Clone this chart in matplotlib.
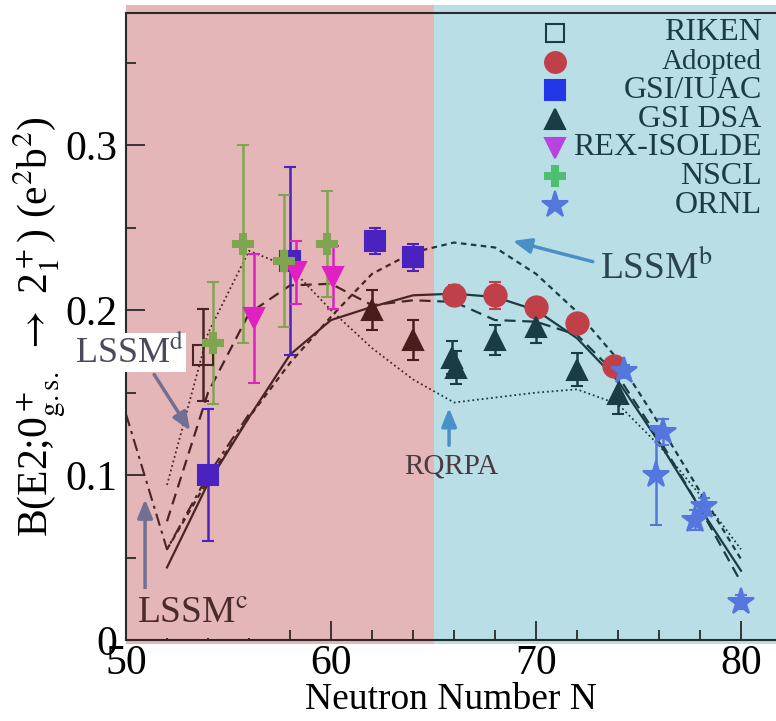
import numpy as np
import matplotlib
matplotlib.use("Agg")
import matplotlib.pyplot as plt
from matplotlib.patches import Rectangle
from matplotlib.ticker import MultipleLocator

plt.rcParams['font.family'] = ['Liberation Serif', 'DejaVu Serif']
plt.rcParams['mathtext.fontset'] = 'stix'

# datos experimentales (N, B(E2), error)
riken_N = [53.75]
riken_B = [0.173]
riken_e = [0.028]

adopt_N = [66, 68, 70, 72, 73.8]
adopt_B = [0.209, 0.209, 0.202, 0.192, 0.166]
adopt_e = [0.006, 0.008, 0.004, 0.003, 0.003]

iuac_N = [54, 58, 62.15, 64]
iuac_B = [0.100, 0.230, 0.242, 0.232]
iuac_e = [0.040, 0.057, 0.008, 0.008]

dsa_N = [62, 64, 65.9, 66.1, 68, 70, 72, 74]
dsa_B = [0.200, 0.182, 0.171, 0.165, 0.182, 0.190, 0.164, 0.149]
dsa_e = [0.012, 0.012, 0.010, 0.010, 0.009, 0.010, 0.010, 0.012]

rex_N = [56.25, 58.3, 60.1]
rex_B = [0.195, 0.223, 0.220]
rex_e = [0.039, 0.019, 0.019]

nscl_N = [54.25, 55.7, 57.7, 59.8]
nscl_B = [0.180, 0.240, 0.230, 0.240]
nscl_e = [0.037, 0.060, 0.040, 0.032]

ornl_N = [74.3, 75.85, 76.2, 77.75, 78.2, 80.0]
ornl_B = [0.163, 0.100, 0.126, 0.073, 0.081, 0.023]
ornl_e = [0.004, 0.030, 0.008, 0.006, 0.005, 0.004]

# calculos teoricos
N_teo = [52, 54, 56, 58, 60, 62, 64, 66, 68, 70, 72, 74, 76, 78, 80]
lssm_a = [0.044, 0.095, 0.135, 0.173, 0.194, 0.202, 0.209, 0.210, 0.208, 0.200, 0.183, 0.157, 0.120, 0.080, 0.042]
lssm_b = [0.055, 0.097, 0.135, 0.168, 0.196, 0.222, 0.235, 0.241, 0.238, 0.222, 0.199, 0.170, 0.131, 0.090, 0.049]
lssm_d = [0.072, 0.150, 0.198, 0.215, 0.216, 0.203, 0.206, 0.205, 0.194, 0.193, 0.185, 0.160, 0.122, 0.080, 0.035]
rqrpa = [0.094, 0.186, 0.236, 0.226, 0.200, 0.177, 0.158, 0.144, 0.147, 0.150, 0.152, 0.143, 0.118, 0.088, 0.055]
N_c = [50, 52, 54, 56]
lssm_c = [0.137, 0.055, 0.100, 0.137]

leyenda = ['RIKEN', 'Adopted', 'GSI/IUAC', 'GSI DSA', 'REX-ISOLDE', 'NSCL', 'ORNL']

rosa = '#e5b6b7'
celeste = '#badee6'
oscuro_r = '#4a2424'
oscuro_c = '#1c3c44'
corte = 65

fig = plt.figure(figsize=(7.76, 7.21), dpi=100)
ax = fig.add_axes([126/776, 1 - 640/721, 650/776, (640 - 13.3)/721])
ax.set_xlim(50, 50 + 650/20.5)
ax.set_ylim(0, 0.38)

ax.axvspan(50, corte, ymin=-0.006, ymax=1.014, color=rosa, zorder=0, clip_on=False, lw=0)
ax.axvspan(corte, 90, ymin=-0.006, ymax=1.014, color=celeste, zorder=0, clip_on=False, lw=0)


def dos_tonos(x, y, **kw):
    for lo, hi, col in ((40, corte, oscuro_r), (corte, 90, oscuro_c)):
        ln, = ax.plot(x, y, color=col, zorder=2, **kw)
        ln.set_clip_path(Rectangle((lo, -1), hi - lo, 3, transform=ax.transData))


dos_tonos(N_teo, lssm_a, lw=1.6, ls='-')
dos_tonos(N_teo, lssm_b, lw=1.6, ls=(0, (2.5, 2)))
dos_tonos(N_teo, lssm_d, lw=1.6, ls=(0, (5, 3)))
dos_tonos(N_teo, rqrpa, lw=1.3, ls=(0, (1, 1.6)))
dos_tonos(N_c, lssm_c, lw=1.5, ls=(0, (6, 2.5, 1.5, 2.5)))


def puntos(N, B, e, marker, c_rosa, c_celeste, ms, mfc=None):
    N = np.array(N)
    B = np.array(B)
    e = np.array(e)
    for sel, col in ((N < corte, c_rosa), (N >= corte, c_celeste)):
        if sel.sum() == 0:
            continue
        ax.errorbar(N[sel], B[sel], yerr=e[sel], fmt=marker, ms=ms, color=col,
                    mfc=col if mfc is None else mfc, mec=col, mew=1.5,
                    elinewidth=1.8, capsize=4, capthick=1.8, zorder=3)


puntos(riken_N, riken_B, riken_e, 's', oscuro_r, oscuro_c, 14, mfc='none')
puntos(adopt_N, adopt_B, adopt_e, 'o', '#c0404a', '#c0404a', 16)
puntos(iuac_N, iuac_B, iuac_e, 's', '#4a22c0', '#2238e8', 14)
puntos(dsa_N, dsa_B, dsa_e, '^', '#4a1c1c', '#1a3c45', 15)
puntos(rex_N, rex_B, rex_e, 'v', '#e020c0', '#b844e0', 15)
puntos(nscl_N, nscl_B, nscl_e, 'P', '#80a550', '#4cc070', 15)
puntos(ornl_N, ornl_B, ornl_e, '*', '#5577dd', '#5577dd', 20)

# leyenda a mano, texto alineado a la derecha
ley_marc = ['s', 'o', 's', '^', 'v', 'P', '*']
ley_col = ['#1c3c44', '#c0404a', '#2238e8', '#1a3c45', '#b844e0', '#4cc070', '#5577dd']
ley_ms = [13, 15, 14, 14, 14, 14, 20]
for i, lab in enumerate(leyenda):
    yy = 0.9686 - i * 0.0458
    ax.plot([0.66], [yy], marker=ley_marc[i], ms=ley_ms[i], color=ley_col[i],
            mfc='none' if i == 0 else ley_col[i], mew=1.5, ls='none',
            transform=ax.transAxes, clip_on=False, zorder=4)
    ax.text(0.978, yy, lab, transform=ax.transAxes, ha='right', va='center',
            fontsize=23 if i != 1 else 21, color='#1c3c44', zorder=4)

# anotaciones
flecha_azul = dict(arrowstyle='-|>,head_width=0.45,head_length=1.1', lw=2.5, color='#4a90c8')
flecha_gris = dict(arrowstyle='-|>,head_width=0.45,head_length=1.1', lw=2.5, color='#707095')

ax.annotate('', xy=(68.73, 0.2424), xytext=(72.9, 0.229), arrowprops=flecha_azul, zorder=4)
ax.text(73.1, 0.2255, r'LSSM$^{\rm b}$', fontsize=27, color='#2a4550', va='center', ha='left')

ax.annotate('', xy=(65.76, 0.1424), xytext=(65.76, 0.1164), arrowprops=flecha_azul, zorder=4)
ax.text(63.55, 0.1055, 'RQRPA', fontsize=21, color='#4a3a40', va='center', ha='left')

ax.annotate('', xy=(53.2, 0.1255), xytext=(51.3, 0.1624), arrowprops=flecha_gris, zorder=4,
            annotation_clip=False)
ax.text(47.5, 0.1745, r'LSSM$^{\rm d}$', fontsize=26, color='#4a4a5a', va='center', ha='left',
        zorder=6, clip_on=False,
        bbox=dict(boxstyle='square,pad=0.05', fc='white', ec='none'))

ax.annotate('', xy=(50.93, 0.087), xytext=(50.93, 0.026), arrowprops=flecha_gris, zorder=4,
            annotation_clip=False)
ax.text(50.55, 0.016, r'LSSM$^{\rm c}$', fontsize=27, color='#4a2a2a', va='center', ha='left',
        zorder=6, clip_on=False,
        bbox=dict(boxstyle='square,pad=0.2', fc=rosa, ec='none'))

# ejes
ax.spines['right'].set_visible(False)
for s in ('left', 'bottom', 'top'):
    ax.spines[s].set_color('#2a2a2a')
    ax.spines[s].set_linewidth(1.5)
ax.xaxis.set_major_locator(MultipleLocator(10))
ax.xaxis.set_minor_locator(MultipleLocator(2))
ax.yaxis.set_major_locator(MultipleLocator(0.1))
ax.yaxis.set_minor_locator(MultipleLocator(0.05))
ax.tick_params(which='both', direction='in', top=False, right=False, labelsize=30, colors='#2a2a2a')
ax.tick_params(which='major', length=14, width=1.3)
ax.tick_params(which='minor', length=7, width=1.3)
ax.tick_params(axis='y', which='major', pad=6)
ax.tick_params(axis='x', which='major', pad=3)
ax.set_yticks([0, 0.1, 0.2, 0.3])
ax.set_yticklabels(['0', '0.1', '0.2', '0.3'])
for t in ax.get_xticklabels() + ax.get_yticklabels():
    t.set_color('black')

ax.set_xlabel('Neutron Number N', fontsize=27, labelpad=0)
ax.set_ylabel(r'B(E2;0$^+_{\rm g{.}s{.}}$ $\rightarrow$ 2$^+_1$) (e$^2$b$^2$)', fontsize=30, labelpad=-1)

plt.savefig('out.png', dpi=100)
